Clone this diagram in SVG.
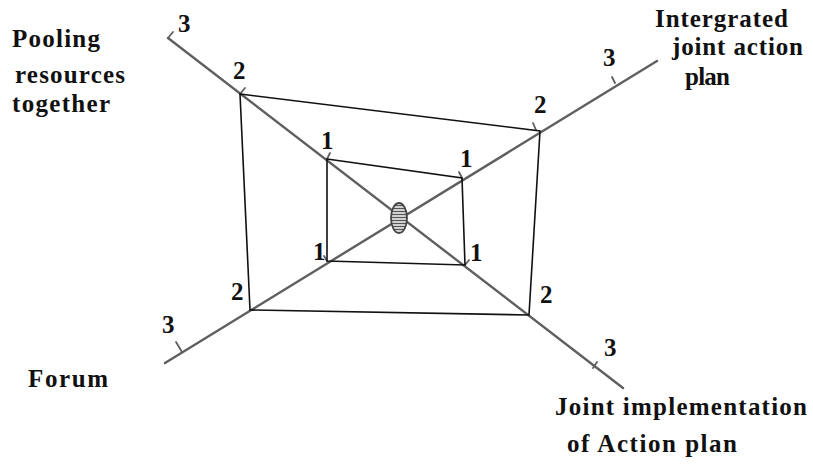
<svg xmlns="http://www.w3.org/2000/svg" width="813" height="474" viewBox="0 0 813 474">
<defs>
<style>
.axis{stroke:#5f5f5f;stroke-width:2.4;fill:none;stroke-linecap:round}
.tick{stroke:#5f5f5f;stroke-width:1.8;fill:none;stroke-linecap:round}
.frame{stroke:#111;stroke-width:1.6;fill:none;stroke-linejoin:miter}
.lbl{font-family:"Liberation Serif","Times New Roman",serif;font-weight:bold;font-size:25px;fill:#111}
.num{font-family:"Liberation Serif","Times New Roman",serif;font-weight:bold;font-size:25px;fill:#111}
</style>
<pattern id="hatch" width="4" height="3" patternUnits="userSpaceOnUse">
<rect width="4" height="3" fill="#d0d0d0"/>
<line x1="0" y1="1.5" x2="4" y2="1.5" stroke="#555" stroke-width="1"/>
</pattern>
</defs>
<rect width="813" height="474" fill="#fff"/>
<g id="connectors">
<line class="axis" x1="168" y1="38" x2="623" y2="388"/>
<line class="axis" x1="165" y1="363" x2="657" y2="61"/>
<path class="tick" d="M168 38 L173 32"/>
<path class="tick" d="M593 368 L597 362"/>
<path class="tick" d="M182 352 L176 342"/>
<path class="tick" d="M615 83 L612 77"/>
<path class="tick" d="M240 94 L245 88"/>
<path class="tick" d="M536 130 L533 123"/>
<path class="tick" d="M327 159 L330 153"/>
<path class="tick" d="M462 178 L459 172"/>
<path class="tick" d="M465 265 L469 260"/>
<path class="tick" d="M327 261 L324 256"/>
</g>
<g id="outer-frame">
<polygon class="frame" points="240,94 540,131 529,315 250,310"/>
</g>
<g id="inner-frame">
<polygon class="frame" points="327,159 462,178 465,265 327,261"/>
</g>
<g id="center">
<ellipse cx="399" cy="218" rx="8" ry="15" fill="url(#hatch)" stroke="#444" stroke-width="1.8"/>
</g>
<g id="numbers">
<text class="num" x="178" y="32">3</text>
<text class="num" x="233" y="79">2</text>
<text class="num" x="603" y="66">3</text>
<text class="num" x="534" y="113">2</text>
<text class="num" x="162" y="333">3</text>
<text class="num" x="231" y="300">2</text>
<text class="num" x="540" y="303">2</text>
<text class="num" x="604" y="356">3</text>
<text class="num" x="321" y="149">1</text>
<text class="num" x="460" y="167">1</text>
<text class="num" x="313" y="260">1</text>
<text class="num" x="470" y="261">1</text>
</g>
<g id="label-pooling">
<text class="lbl" x="12" y="47" textLength="88" lengthAdjust="spacing">Pooling</text>
<text class="lbl" x="15" y="83" textLength="110" lengthAdjust="spacing">resources</text>
<text class="lbl" x="12" y="112" textLength="98" lengthAdjust="spacing">together</text>
</g>
<g id="label-integrated">
<text class="lbl" x="655" y="27" textLength="133" lengthAdjust="spacing">Intergrated</text>
<text class="lbl" x="672" y="55" textLength="131" lengthAdjust="spacing">joint action</text>
<text class="lbl" x="685" y="85" textLength="45" lengthAdjust="spacing">plan</text>
</g>
<g id="label-forum">
<text class="lbl" x="28" y="387" textLength="80" lengthAdjust="spacing">Forum</text>
</g>
<g id="label-joint">
<text class="lbl" x="555" y="415" textLength="252" lengthAdjust="spacing">Joint implementation</text>
<text class="lbl" x="567" y="452" textLength="170" lengthAdjust="spacing">of Action plan</text>
</g>
</svg>
